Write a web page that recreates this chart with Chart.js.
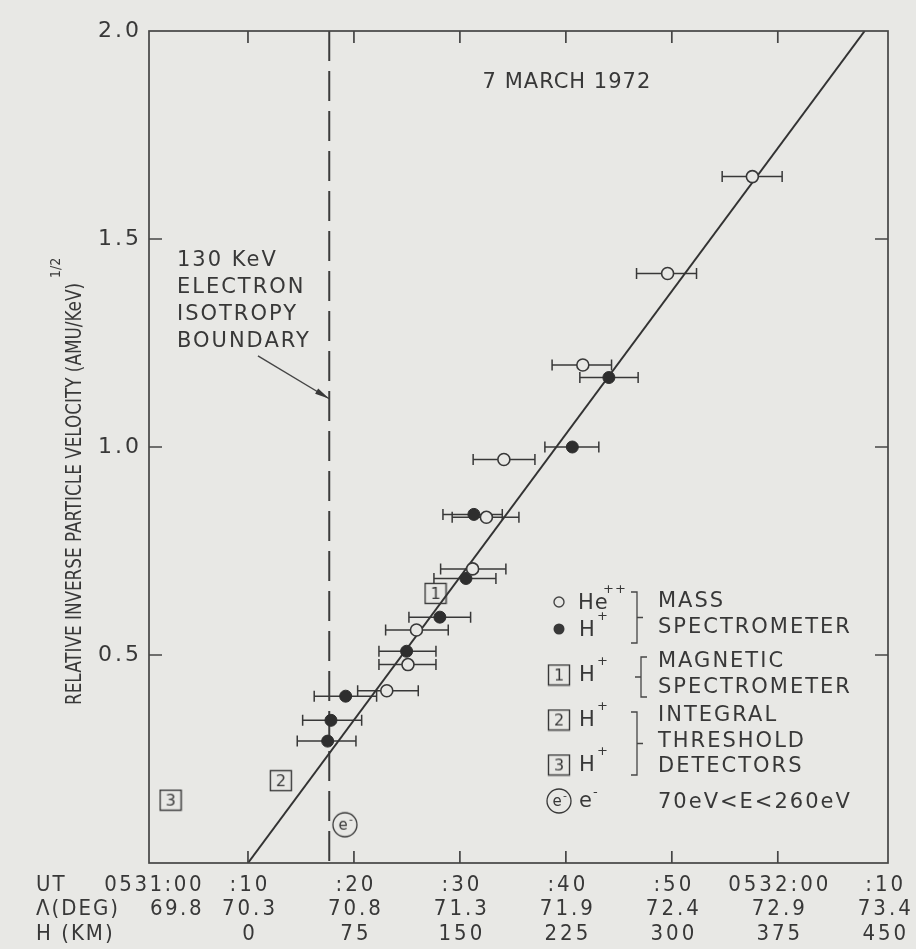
<!DOCTYPE html>
<html>
<head>
<meta charset="utf-8">
<script src="https://cdn.jsdelivr.net/npm/chart.js@4/dist/chart.umd.min.js"></script>
<style>
  html, body { margin: 0; padding: 0; background: #e8e8e5; }
  #wrap { width: 916px; height: 949px; position: relative; }
</style>
</head>
<body>
<div id="wrap"><canvas id="chart"></canvas></div>
<script>
// Time axis: seconds after 05:31:00 UT, 7 March 1972.
// He++ (mass spectrometer), open circles, with timing uncertainty.
const heTime     = [57.6, 49.6, 41.6, 34.15, 32.5, 31.2, 25.9, 25.1, 23.1];
const heValue    = [1.65, 1.417, 1.197, 0.97, 0.831, 0.707, 0.56, 0.477, 0.414];
const heTimeLow  = [54.75, 46.67, 38.7, 31.25, 29.27, 28.18, 22.99, 22.36, 20.35];
const heTimeHigh = [60.41, 52.33, 44.31, 37.08, 35.57, 34.34, 28.9, 27.74, 26.07];

// H+ (mass spectrometer), filled circles.
const hTime     = [44.06, 40.61, 31.32, 30.57, 28.11, 24.97, 19.22, 17.83, 17.52];
const hValue    = [1.167, 1.0, 0.838, 0.684, 0.591, 0.509, 0.401, 0.343, 0.293];
const hTimeLow  = [41.32, 38.02, 28.4, 27.55, 25.19, 22.36, 16.25, 15.16, 14.65];
const hTimeHigh = [46.82, 43.11, 34.0, 33.4, 31.01, 27.74, 22.14, 20.73, 20.19];

// H+ magnetic spectrometer (box 1) and integral threshold detectors (boxes 2, 3).
const magTime  = [27.7];
const magValue = [0.648];
const intTime  = [13.1, 2.7];
const intValue = [0.198, 0.151];
const intNames = ['2', '3'];

// Low-energy electrons, 70 eV < E < 260 eV.
const elecTime  = [19.15];
const elecValue = [0.092];

// Straight-line fit and the 130 keV electron isotropy boundary.
const fitTime  = [10, 68.2];
const fitValue = [0, 2.0];
const boundaryTime = 17.67;

// Axis ticks and the three-row time/latitude/altitude table.
const yTickValues = [0, 0.5, 1.0, 1.5, 2.0];
const tickTimes   = [0, 10, 20, 30, 40, 50, 60, 70];
const utLabels    = ['0531:00', ':10', ':20', ':30', ':40', ':50', '0532:00', ':10'];
const latLabels   = ['69.8', '70.3', '70.8', '71.3', '71.9', '72.4', '72.9', '73.4'];
const altLabels   = ['', '0', '75', '150', '225', '300', '375', '450'];
const rowHeads    = ['UT', 'Λ(DEG)', 'H (KM)'];

const PAPER = '#e8e8e5';
const INK = '#383838';
const FONT = '"DejaVu Sans", sans-serif';
const NARROW = '"DejaVu Sans Condensed", "DejaVu Sans", sans-serif';

// Small canvases used as point styles for the boxed and circled markers.
function markCanvas(w, h, draw) {
  const c = document.createElement('canvas');
  c.width = w; c.height = h;
  draw(c.getContext('2d'), w, h);
  return c;
}
function boxMark(label) {
  return markCanvas(24, 23, (g, w, h) => {
    g.strokeStyle = INK; g.lineWidth = 1.4;
    g.strokeRect(1.5, 1.5, w - 3, h - 3);
    g.fillStyle = INK; g.font = '16px ' + FONT;
    g.textAlign = 'center'; g.textBaseline = 'middle';
    g.fillText(label, w / 2, h / 2 + 1);
  });
}
function electronMark() {
  return markCanvas(28, 28, (g, w, h) => {
    g.strokeStyle = INK; g.lineWidth = 1.3;
    g.beginPath(); g.arc(w / 2, h / 2, 12, 0, Math.PI * 2); g.stroke();
    g.fillStyle = INK; g.font = '15px ' + FONT;
    g.textAlign = 'center'; g.textBaseline = 'middle';
    g.fillText('e', w / 2 - 2, h / 2 + 1);
    g.font = '11px ' + FONT;
    g.fillText('-', w / 2 + 6, h / 2 - 5);
  });
}

function pts(ts, vs) { return ts.map((t, i) => ({ x: t, y: vs[i] })); }

// Horizontal error bars with end caps, drawn under the symbols.
const errorBars = {
  id: 'errorBars',
  beforeDatasetsDraw(chart) {
    const { ctx } = chart;
    const xs = chart.scales.x;
    chart.data.datasets.forEach((ds, di) => {
      if (!ds.xLow) return;
      const meta = chart.getDatasetMeta(di);
      ctx.save();
      ctx.strokeStyle = INK; ctx.lineWidth = 1.5;
      meta.data.forEach((el, i) => {
        const x1 = xs.getPixelForValue(ds.xLow[i]);
        const x2 = xs.getPixelForValue(ds.xHigh[i]);
        const y = el.y;
        ctx.beginPath();
        ctx.moveTo(x1, y); ctx.lineTo(x2, y);
        ctx.moveTo(x1, y - 5.5); ctx.lineTo(x1, y + 5.5);
        ctx.moveTo(x2, y - 5.5); ctx.lineTo(x2, y + 5.5);
        ctx.stroke();
      });
      ctx.restore();
    });
  }
};

const paper = {
  id: 'paper',
  beforeDraw(chart) {
    const { ctx, width, height } = chart;
    ctx.save(); ctx.fillStyle = PAPER; ctx.fillRect(0, 0, width, height); ctx.restore();
  }
};

function txt(ctx, s, x, y, size, align, spacing, family) {
  ctx.font = size + 'px ' + (family || FONT);
  ctx.letterSpacing = (spacing || 0) + 'px';
  ctx.textAlign = align || 'left';
  ctx.textBaseline = 'middle';
  ctx.fillText(s, x, y);
}

// Brace joining legend rows: dir +1 opens to the left "}", -1 opens to the right "{".
function brace(ctx, x, y1, y2, dir) {
  const hook = 6 * dir, mid = (y1 + y2) / 2;
  ctx.beginPath();
  ctx.moveTo(x - hook, y1); ctx.lineTo(x, y1); ctx.lineTo(x, y2); ctx.lineTo(x - hook, y2);
  ctx.moveTo(x, mid); ctx.lineTo(x + hook, mid);
  ctx.stroke();
}

const frame = {
  id: 'frame',
  afterDraw(chart) {
    const { ctx, chartArea: a } = chart;
    const xs = chart.scales.x, ys = chart.scales.y;
    ctx.save();
    ctx.strokeStyle = '#454545'; ctx.fillStyle = INK; ctx.lineWidth = 1.7;
    ctx.strokeRect(a.left, a.top, a.right - a.left, a.bottom - a.top);

    // inward tick marks
    ctx.beginPath();
    xs.ticks.forEach(t => {
      if (t.value <= xs.min + 1 || t.value >= xs.max - 1) return;
      const x = xs.getPixelForValue(t.value);
      ctx.moveTo(x, a.bottom); ctx.lineTo(x, a.bottom - 12);
      ctx.moveTo(x, a.top); ctx.lineTo(x, a.top + 12);
    });
    ys.ticks.forEach(t => {
      if (t.value <= ys.min || t.value >= ys.max) return;
      const y = ys.getPixelForValue(t.value);
      ctx.moveTo(a.left, y); ctx.lineTo(a.left + 13, y);
      ctx.moveTo(a.right, y); ctx.lineTo(a.right - 13, y);
    });
    ctx.stroke();

    // y tick labels
    ys.ticks.forEach(t => {
      if (t.value === 0) return;
      txt(ctx, t.value.toFixed(1), a.left - 7, ys.getPixelForValue(t.value), 22, 'right', 3);
    });

    // y axis title (tall, narrow lettering) with exponent
    ctx.save();
    ctx.translate(75, 494);
    ctx.rotate(-Math.PI / 2);
    const title = 'RELATIVE INVERSE PARTICLE VELOCITY (AMU/KeV)';
    ctx.font = '22px ' + NARROW;
    ctx.letterSpacing = '0px';
    const squeeze = 422 / ctx.measureText(title).width;
    ctx.save();
    ctx.scale(squeeze, 1);
    txt(ctx, title, 0, 0, 22, 'center', 0, NARROW);
    ctx.restore();
    txt(ctx, '1/2', 211 + 5, -19, 14, 'left', 0, NARROW);
    ctx.restore();

    // time / latitude / altitude table under the axis
    const rows = [utLabels, latLabels, altLabels];
    const rowY = [885, 909, 934];
    const firstColRight = xs.getPixelForValue(tickTimes[1]) - 44;
    rows.forEach((labels, r) => {
      txt(ctx, rowHeads[r], 36, rowY[r], 22, 'left', 2, NARROW);
      labels.forEach((s, i) => {
        if (!s) return;
        if (i === 0) txt(ctx, s, firstColRight, rowY[r], 22, 'right', 2.5, NARROW);
        else txt(ctx, s, xs.getPixelForValue(tickTimes[i]) + 2, rowY[r], 22, 'center', 3, NARROW);
      });
    });

    // date
    txt(ctx, '7 MARCH 1972', xs.getPixelForValue(40.1), ys.getPixelForValue(1.875), 21, 'center', 1);

    // boundary annotation with arrow
    const noteLines = ['130 KeV', 'ELECTRON', 'ISOTROPY', 'BOUNDARY'];
    const nx = xs.getPixelForValue(3.3), ny = ys.getPixelForValue(1.449);
    noteLines.forEach((s, i) => txt(ctx, s, nx, ny + i * 27, 21, 'left', 2));
    const ax1 = xs.getPixelForValue(10.94), ay1 = ys.getPixelForValue(1.219);
    const ax2 = xs.getPixelForValue(boundaryTime), ay2 = ys.getPixelForValue(1.116);
    ctx.lineWidth = 1.4;
    ctx.beginPath(); ctx.moveTo(ax1, ay1); ctx.lineTo(ax2, ay2); ctx.stroke();
    const ang = Math.atan2(ay2 - ay1, ax2 - ax1);
    ctx.beginPath();
    ctx.moveTo(ax2, ay2);
    ctx.lineTo(ax2 - 15 * Math.cos(ang - 0.2), ay2 - 15 * Math.sin(ang - 0.2));
    ctx.lineTo(ax2 - 15 * Math.cos(ang + 0.2), ay2 - 15 * Math.sin(ang + 0.2));
    ctx.closePath(); ctx.fill();

    // legend
    const sx = 559, hx = 578, bx = 637, tx = 658;
    ctx.lineWidth = 1.4;
    ctx.beginPath(); ctx.arc(sx, 602, 5, 0, Math.PI * 2); ctx.stroke();
    txt(ctx, 'He', hx, 604, 21, 'left', 1);
    txt(ctx, '++', hx + 25, 590, 13, 'left', 1);
    ctx.beginPath(); ctx.arc(sx, 629, 5.5, 0, Math.PI * 2); ctx.fill();
    txt(ctx, 'H', hx + 1, 631, 21, 'left', 1);
    txt(ctx, '+', hx + 19, 617, 13, 'left', 0);
    ctx.drawImage(boxMark('1'), sx - 12, 675 - 11.5);
    txt(ctx, 'H', hx + 1, 676, 21, 'left', 1);
    txt(ctx, '+', hx + 19, 662, 13, 'left', 0);
    ctx.drawImage(boxMark('2'), sx - 12, 720 - 11.5);
    txt(ctx, 'H', hx + 1, 721, 21, 'left', 1);
    txt(ctx, '+', hx + 19, 707, 13, 'left', 0);
    ctx.drawImage(boxMark('3'), sx - 12, 765 - 11.5);
    txt(ctx, 'H', hx + 1, 766, 21, 'left', 1);
    txt(ctx, '+', hx + 19, 752, 13, 'left', 0);
    ctx.drawImage(electronMark(), sx - 14, 801 - 14);
    txt(ctx, 'e', hx + 1, 802, 21, 'left', 0);
    txt(ctx, '-', hx + 15, 793, 13, 'left', 0);

    ctx.lineWidth = 1.3;
    brace(ctx, bx, 592, 643, 1);
    brace(ctx, bx + 4, 657, 697, -1);
    brace(ctx, bx, 712, 775, 1);

    const legendText = [
      ['MASS', 602], ['SPECTROMETER', 628], ['MAGNETIC', 662], ['SPECTROMETER', 688],
      ['INTEGRAL', 716], ['THRESHOLD', 742], ['DETECTORS', 767], ['70eV<E<260eV', 803]
    ];
    legendText.forEach(([s, y]) => txt(ctx, s, tx, y, 21, 'left', 2));
    ctx.restore();
  }
};

const chart = new Chart(document.getElementById('chart'), {
  type: 'scatter',
  data: {
    datasets: [
      {
        label: 'He++', data: pts(heTime, heValue), xLow: heTimeLow, xHigh: heTimeHigh,
        pointStyle: 'circle', pointRadius: 6, backgroundColor: PAPER, borderColor: INK, borderWidth: 1.6, order: 0
      },
      {
        label: 'H+', data: pts(hTime, hValue), xLow: hTimeLow, xHigh: hTimeHigh,
        pointStyle: 'circle', pointRadius: 6, backgroundColor: '#2e2e2e', borderColor: '#2e2e2e', borderWidth: 1, order: 1
      },
      {
        label: 'H+ magnetic spectrometer', data: pts(magTime, magValue),
        pointStyle: boxMark('1'), pointRadius: 12, order: 2
      },
      {
        label: 'H+ integral threshold detectors', data: pts(intTime, intValue),
        pointStyle: intNames.map(boxMark), pointRadius: 12, order: 2
      },
      {
        label: 'e-', data: pts(elecTime, elecValue),
        pointStyle: electronMark(), pointRadius: 14, order: 2
      },
      {
        label: 'fit', data: pts(fitTime, fitValue), showLine: true, pointRadius: 0,
        borderColor: '#333', borderWidth: 2, order: 5
      },
      {
        label: 'isotropy boundary', data: [{ x: boundaryTime, y: 2.0 }, { x: boundaryTime, y: 0 }],
        showLine: true, pointRadius: 0, borderColor: '#3c3c3c', borderWidth: 2,
        borderDash: [30, 10], order: 6
      }
    ]
  },
  options: {
    responsive: true,
    maintainAspectRatio: false,
    animation: false,
    events: [],
    layout: { padding: { left: 0, top: 31, right: 28, bottom: 0 } },
    plugins: { legend: { display: false }, tooltip: { enabled: false } },
    scales: {
      x: {
        type: 'linear', min: 0.66, max: 70.4,
        afterBuildTicks: s => { s.ticks = tickTimes.map(v => ({ value: v })); },
        grid: { display: false, drawTicks: false }, border: { display: false },
        ticks: { display: false },
        afterFit: s => { s.height = 86; }
      },
      y: {
        type: 'linear', min: 0, max: 2,
        afterBuildTicks: s => { s.ticks = yTickValues.map(v => ({ value: v })); },
        grid: { display: false, drawTicks: false }, border: { display: false },
        ticks: { display: false },
        afterFit: s => { s.width = 149; }
      }
    }
  },
  plugins: [paper, errorBars, frame]
});
</script>
</body>
</html>
